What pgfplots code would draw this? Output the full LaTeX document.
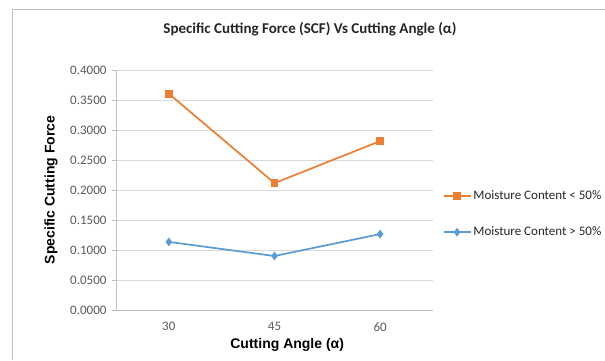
\documentclass[border=0pt]{standalone}
\usepackage{fontspec}
\setmainfont{Carlito}
\newfontfamily\arialfont{Liberation Sans}
\usepackage{pgfplots}
\pgfplotsset{compat=1.18}

\definecolor{scforange}{HTML}{ED7D31}
\definecolor{scfblue}{HTML}{5B9BD5}
\definecolor{gridgray}{HTML}{D9D9D9}
\definecolor{axisgray}{HTML}{BFBFBF}
\definecolor{ticktext}{HTML}{595959}

\pgfplotstableread{
x angle scf
0 30 0.3605
1 45 0.2115
2 60 0.2815
}\moistlow
\pgfplotstableread{
x angle scf
0 30 0.1135
1 45 0.0900
2 60 0.1265
}\moisthigh

\begin{document}
\begin{tikzpicture}[x=1pt,y=1pt]
\useasboundingbox (0,0) rectangle (605,360);
% chart area frame
\draw[color=axisgray,line width=0.8pt] (12,0) -- (12,351) -- (605,351);
% title
\node[font=\bfseries\fontsize{15}{18}\selectfont,text=black!85] at (310,331) {Specific Cutting Force (SCF) Vs Cutting Angle (α)};
\begin{axis}[
  at={(116pt,50pt)}, anchor=south west,
  width=317pt, height=240pt, scale only axis,
  xmin=-0.5, xmax=2.5, ymin=0, ymax=0.4,
  xtick={0,1,2}, xticklabels={30,45,60},
  ytick={0,0.05,...,0.4},
  /pgf/number format/assume math mode=true,
  yticklabel style={/pgf/number format/fixed,/pgf/number format/fixed zerofill,/pgf/number format/precision=4,xshift=-2pt},
  ticklabel style={font=\fontsize{13}{15}\selectfont,text=ticktext},
  axis x line*=bottom, axis y line*=left,
  axis line style={color=axisgray,line width=0.8pt,-},
  tick align=outside,
  major tick length=4pt,
  ytick style={color=axisgray,line width=0.8pt},
  xtick style={draw=none},
  ymajorgrids, grid style={color=gridgray,line width=0.9pt},
  xticklabel style={yshift=-5pt},
  xlabel={\arialfont\bfseries Cutting Angle (α)},
  ylabel={\arialfont\bfseries Specific Cutting Force},
  xlabel style={font=\fontsize{14}{16}\selectfont,at={(axis description cs:0.54,-0.146)},anchor=center},
  ylabel style={font=\fontsize{14}{16}\selectfont,at={(axis description cs:-0.205,0.5)},anchor=center},
  legend style={draw=none,fill=none,at={(1.03,0.4)},anchor=west,
    font=\fontsize{13}{15}\selectfont,text=black!85,row sep=22pt,
    inner sep=0pt},
  legend cell align=left,
  legend image code/.code={
    \draw[#1,mark=none] (0pt,0pt) -- (27pt,0pt);
    \draw[#1,only marks] plot coordinates {(13.5pt,0pt)};
  },
  clip=false,
]
\addplot[color=scforange,line width=1.7pt,mark=square*,mark size=3pt,
  mark options={fill=scforange,draw=scforange}]
  table[x=x,y=scf]{\moistlow};
\addlegendentry{Moisture Content < 50\%}
\addplot[color=scfblue,line width=1.7pt,mark=diamond*,mark size=3pt,
  mark options={fill=scfblue,draw=scfblue}]
  table[x=x,y=scf]{\moisthigh};
\addlegendentry{Moisture Content > 50\%}
\end{axis}
\end{tikzpicture}
\end{document}
